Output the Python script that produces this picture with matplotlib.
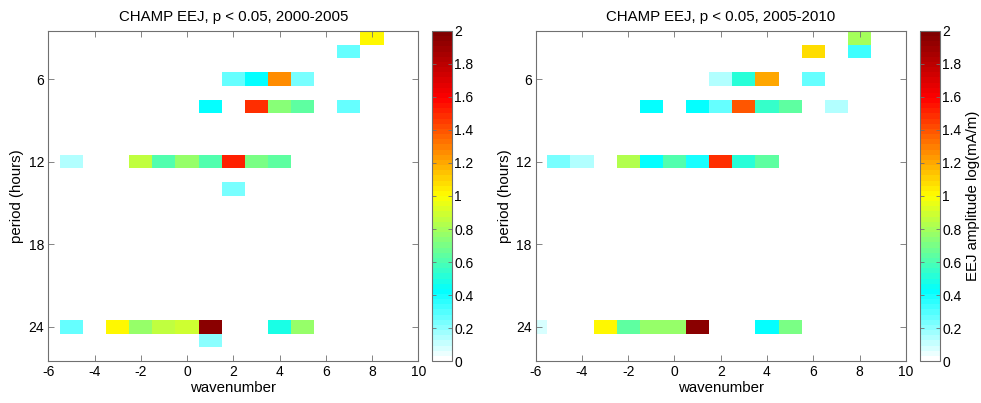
import numpy as np
import matplotlib
matplotlib.use('Agg')
import matplotlib.pyplot as plt
from matplotlib.colors import LinearSegmentedColormap

plt.rcParams['font.family'] = ['Liberation Sans', 'DejaVu Sans']
plt.rcParams['font.size'] = 10
plt.rcParams['axes.unicode_minus'] = False

# significant cells: wavenumber, period (hours), log amplitude
wn_a = [8, 7, 2, 3, 4, 5, 1, 3, 4, 5, 7,
        -5, -2, -1, 0, 1, 2, 3, 4, 2,
        -5, -3, -2, -1, 0, 1, 4, 5, 1]
per_a = [3, 4, 6, 6, 6, 6, 8, 8, 8, 8, 8,
         12, 12, 12, 12, 12, 12, 12, 12, 14,
         24, 24, 24, 24, 24, 24, 24, 24, 25]
amp_a = [1.02, 0.25, 0.25, 0.42, 1.26, 0.22, 0.43, 1.48, 0.73, 0.65, 0.25,
         0.14, 0.87, 0.61, 0.77, 0.62, 1.52, 0.69, 0.65, 0.22,
         0.25, 1.0, 0.77, 0.87, 0.88, 1.95, 0.49, 0.77, 0.20]

wn_b = [8, 6, 8, 2, 3, 4, 6, -1, 1, 2, 3, 4, 5, 7,
        -5, -4, -2, -1, 0, 1, 2, 3, 4,
        -6, -3, -2, -1, 0, 1, 4, 5]
per_b = [3, 4, 4, 6, 6, 6, 6, 8, 8, 8, 8, 8, 8, 8,
         12, 12, 12, 12, 12, 12, 12, 12, 12,
         24, 24, 24, 24, 24, 24, 24, 24]
amp_b = [0.81, 1.07, 0.34, 0.14, 0.50, 1.19, 0.25, 0.42, 0.42, 0.25, 1.40, 0.55, 0.65, 0.14,
         0.22, 0.14, 0.83, 0.43, 0.62, 0.40, 1.48, 0.50, 0.63,
         0.08, 1.0, 0.65, 0.77, 0.77, 1.95, 0.43, 0.69]

titles = ['CHAMP EEJ, p < 0.05, 2000-2005', 'CHAMP EEJ, p < 0.05, 2005-2010']

cmap = LinearSegmentedColormap.from_list(
    'wjet', [(0.0, (1, 1, 1)), (0.21, (0, 1, 1)), (0.5, (1, 1, 0)),
             (0.8, (1, 0, 0)), (1.0, (0.5, 0, 0))], N=64)

xedges = np.arange(-6.5, 11.0, 1.0)
yedges = np.arange(2.5, 27.0, 1.0)


def grid(wn, per, amp):
    z = np.full((len(yedges) - 1, len(xedges) - 1), np.nan)
    for w, p, a in zip(wn, per, amp):
        z[int(p - 3), int(w + 6)] = a
    return z


fig = plt.figure(figsize=(9.81, 4.03), dpi=100)
ax_pos = [[0.0492, 0.1042, 0.3772, 0.8189], [0.5461, 0.1042, 0.3772, 0.8189]]
cb_pos = [[0.4404, 0.1042, 0.0199, 0.8189], [0.9378, 0.1042, 0.0199, 0.8189]]
edge = '#707070'

for i, (wn, per, amp) in enumerate([(wn_a, per_a, amp_a), (wn_b, per_b, amp_b)]):
    ax = fig.add_axes(ax_pos[i])
    m = ax.pcolormesh(xedges, yedges, grid(wn, per, amp), cmap=cmap,
                      vmin=0, vmax=2, edgecolors='none')
    ax.set_xlim(-6, 10)
    ax.set_ylim(26.5, 2.5)
    ax.set_xticks(np.arange(-6, 11, 2))
    ax.set_yticks([6, 12, 18, 24])
    ax.tick_params(direction='in', top=True, right=True, length=4,
                   width=0.6, color=edge, labelcolor='black', pad=3,
                   labelsize=10)
    for s in ax.spines.values():
        s.set_color(edge)
        s.set_linewidth(0.8)
    ax.set_title(titles[i], fontsize=10.8, pad=7)
    ax.set_xlabel('wavenumber', fontsize=10.8, labelpad=1)
    ax.set_ylabel('period (hours)', fontsize=10.8, labelpad=3)

    cax = fig.add_axes(cb_pos[i])
    cb = fig.colorbar(m, cax=cax, ticks=np.arange(0, 2.01, 0.2))
    cb.ax.set_yticklabels(['0', '0.2', '0.4', '0.6', '0.8', '1', '1.2', '1.4',
                           '1.6', '1.8', '2'])
    cb.ax.tick_params(direction='in', left=True, right=True, length=3,
                      width=0.6, color=edge, pad=2, labelsize=10)
    cb.outline.set_edgecolor(edge)
    cb.outline.set_linewidth(0.8)
    if i == 1:
        cb.set_label('EEJ amplitude log(mA/m)', fontsize=10.8, labelpad=3)

fig.savefig('out.png', dpi=100)
